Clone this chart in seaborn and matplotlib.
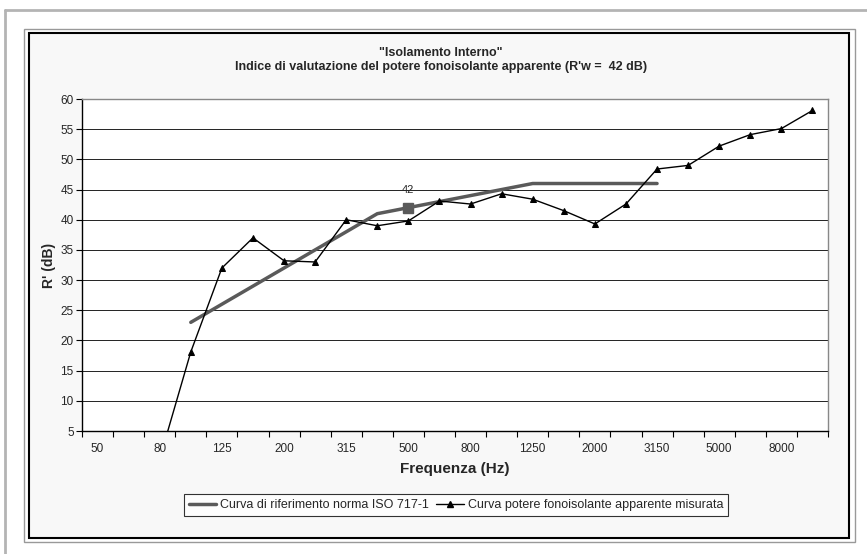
import numpy as np
import pandas as pd
import matplotlib.pyplot as plt
import seaborn as sns
from matplotlib.patches import Rectangle
from matplotlib.lines import Line2D

# 1/3 octave bands
freqs = [50, 63, 80, 100, 125, 160, 200, 250, 315, 400, 500, 630, 800,
         1000, 1250, 1600, 2000, 2500, 3150, 4000, 5000, 6300, 8000, 10000]

# ISO 717-1 reference curve, shifted (100 Hz .. 3150 Hz)
ref_curve = [np.nan, np.nan, np.nan, 23, 26, 29, 32, 35, 38, 41, 42, 43, 44,
             45, 46, 46, 46, 46, 46, np.nan, np.nan, np.nan, np.nan, np.nan]

# measured apparent sound reduction index
measured = [np.nan, np.nan, 0.4, 18.1, 32.0, 37.0, 33.2, 33.0, 40.0, 39.0, 39.8, 43.1, 42.6,
            44.3, 43.4, 41.5, 39.3, 42.6, 48.4, 49.0, 52.2, 54.1, 55.1, 58.1]

rw_value = 42
rw_freq = 500

title = "\"Isolamento Interno\"\nIndice di valutazione del potere fonoisolante apparente (R'w =  42 dB)"
lab_ref = "Curva di riferimento norma ISO 717-1"
lab_meas = "Curva potere fonoisolante apparente misurata"

sns.set_style("white")
plt.rcParams['font.family'] = ['Liberation Sans', 'DejaVu Sans']

W, H = 867, 554
fig = plt.figure(figsize=(W / 100, H / 100), dpi=100)
fig.patch.set_facecolor("white")


def px_rect(x0, y0, x1, y1, **kw):
    return Rectangle((x0 / W, 1 - y1 / H), (x1 - x0) / W, (y1 - y0) / H,
                     transform=fig.transFigure, zorder=-5, **kw)


# page frame and chart frames
fig.add_artist(Line2D([5 / W, 1], [1 - 10 / H, 1 - 10 / H], transform=fig.transFigure,
                      color="#b4b4b4", lw=2, zorder=-5))
fig.add_artist(Line2D([5 / W, 5 / W], [0, 1 - 10 / H], transform=fig.transFigure,
                      color="#b4b4b4", lw=2, zorder=-5))
fig.add_artist(px_rect(24, 29, 855, 542, facecolor="white", edgecolor="#999999", lw=1))
fig.add_artist(px_rect(29, 33, 849, 538, facecolor="#f8f8f8", edgecolor="black", lw=1.5))

ax = fig.add_axes([82 / W, 1 - 431 / H, (828 - 82) / W, (431 - 99) / H])
ax.set_facecolor("white")

df = pd.DataFrame({"pos": np.arange(len(freqs)), "freq": freqs,
                   "ref": ref_curve, "meas": measured})

sns.lineplot(data=df, x="pos", y="ref", ax=ax, color="#5a5a5a", lw=2.5, label=lab_ref)
sns.lineplot(data=df, x="pos", y="meas", ax=ax, color="black", lw=1.0, marker="^",
             markersize=5, markeredgecolor="black", label=lab_meas)

i_rw = freqs.index(rw_freq)
ax.plot(df["pos"][i_rw], rw_value, marker="s", color="#5a5a5a", markersize=7, ls="none")
ax.annotate(str(rw_value), (df["pos"][i_rw], rw_value), xytext=(0, 9),
            textcoords="offset points", ha="center", va="bottom", fontsize=8)

ax.set_xlim(-0.5, len(freqs) - 0.5)
ax.set_ylim(5, 60)
ax.set_yticks(np.arange(5, 61, 5))
ax.yaxis.grid(True, color="#222222", lw=0.7)
ax.xaxis.grid(False)

ax.set_xticks(np.arange(len(freqs))[::2])
ax.set_xticklabels([str(f) for f in freqs[::2]])
ax.set_xticks(np.arange(-0.5, len(freqs) + 0.5, 1), minor=True)
ax.tick_params(axis="x", which="major", length=0, pad=9, labelsize=8.5)
ax.tick_params(axis="x", which="minor", length=4, width=0.8, color="black", direction="out")
ax.tick_params(axis="y", length=4, width=0.8, color="black", direction="out", labelsize=8.5, pad=2)
ax.tick_params(bottom=True, left=True, which="both")

for s in ax.spines.values():
    s.set_color("#888888")
    s.set_linewidth(1)
ax.spines["left"].set_color("black")
ax.spines["bottom"].set_color("black")

ax.set_xlabel("Frequenza (Hz)", fontsize=11, fontweight="bold", labelpad=5)
ax.set_ylabel("R' (dB)", fontsize=10, fontweight="bold", labelpad=3)

fig.text(441 / W, 1 - 60 / H, title, ha="center", va="center", fontsize=9,
         fontweight="bold", linespacing=1.3)

ax.get_legend().remove()
handles = [Line2D([], [], color="#5a5a5a", lw=2.5),
           Line2D([], [], color="black", lw=1, marker="^", markersize=4)]
leg = fig.legend(handles, [lab_ref, lab_meas], loc="center", ncol=2,
                 bbox_to_anchor=(456 / W, 1 - 505 / H), fontsize=9, frameon=True,
                 fancybox=False, edgecolor="black", handlelength=2.2, handletextpad=0.3,
                 columnspacing=0.6, borderpad=0.4)
leg.get_frame().set_linewidth(0.8)
leg.get_frame().set_facecolor("white")

fig.savefig("out.png", dpi=100, facecolor=fig.get_facecolor())
